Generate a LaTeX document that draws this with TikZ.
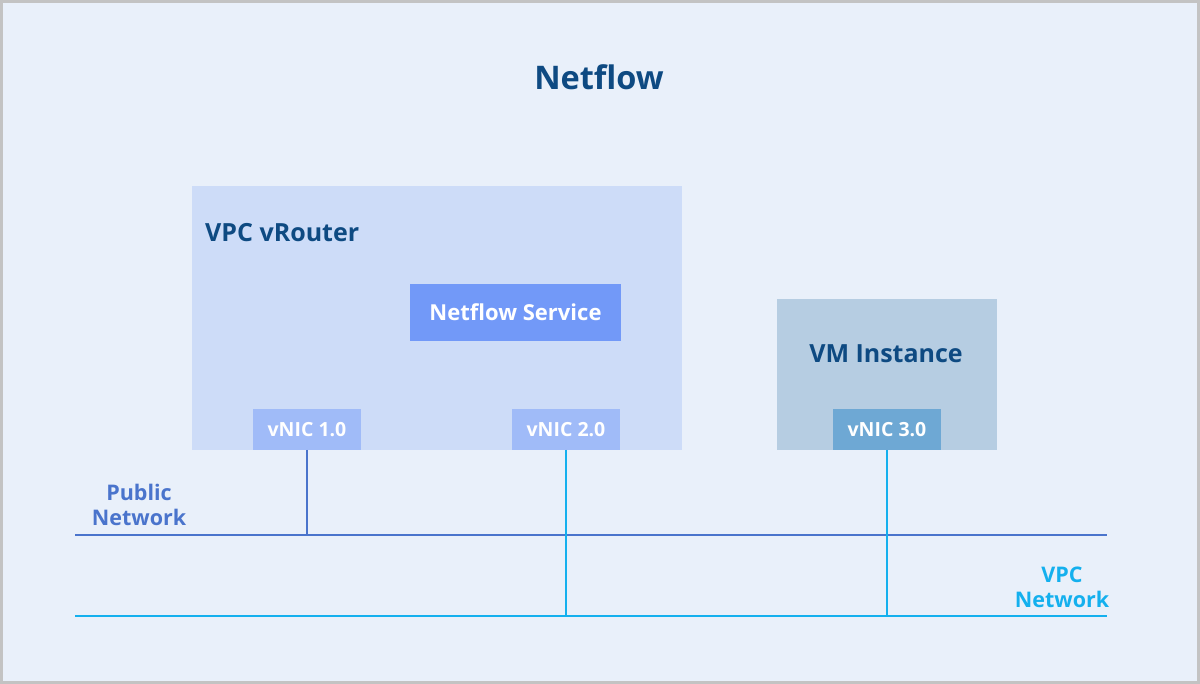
\documentclass[tikz,border=0pt]{standalone}
\usepackage{fontspec}
\setmainfont{Open Sans}
\definecolor{bgfill}{HTML}{E9F0FA}
\definecolor{frame}{HTML}{C3C3C3}
\definecolor{titleblue}{HTML}{0E4A82}
\definecolor{routerfill}{HTML}{CDDCF8}
\definecolor{servicefill}{HTML}{7299F8}
\definecolor{nicfill}{HTML}{A0BBF8}
\definecolor{vmfill}{HTML}{B6CDE2}
\definecolor{vmnicfill}{HTML}{6EA8D4}
\definecolor{pubblue}{HTML}{4A74CC}
\definecolor{vpccyan}{HTML}{14B0EE}
\tikzset{
  box/.style={draw=none, inner sep=0pt, outer sep=0pt, anchor=north west},
  nic/.style={box, minimum width=108pt, minimum height=41pt, text=white, font=\bfseries\fontsize{19.5}{22}\selectfont, anchor=center},
  publine/.style={draw=pubblue, line width=1.4pt},
  vpcline/.style={draw=vpccyan, line width=1.6pt},
  lbl/.style={font=\bfseries\fontsize{21.5}{25}\selectfont, align=center, inner sep=0pt},
}
\begin{document}
\begin{tikzpicture}[x=1pt,y=-1pt]
\useasboundingbox (0,0) rectangle (1200,684);
\fill[frame] (0,0) rectangle (1200,684);
\fill[bgfill] (3,3) rectangle (1197,681);
\node[font=\bfseries\fontsize{32.5}{38}\selectfont, text=titleblue] (title) at (599,77) {Netflow};
% router
\node[box, fill=routerfill, minimum width=490pt, minimum height=264pt] (router) at (192,186) {};
\node[anchor=west, inner sep=0pt, font=\bfseries\fontsize{25}{30}\selectfont, text=titleblue] (routerlbl) at (205,233) {VPC vRouter};
\node[box, fill=servicefill, minimum width=211pt, minimum height=57pt, anchor=center, text=white, font=\bfseries\fontsize{22}{26}\selectfont] (service) at (515.5,312.5) {Netflow Service};
\node[nic, fill=nicfill] (nic1) at (307,429.5) {vNIC 1.0};
\node[nic, fill=nicfill] (nic2) at (566,429.5) {vNIC 2.0};
% VM
\node[box, fill=vmfill, minimum width=220pt, minimum height=151pt] (vm) at (777,299) {};
\node[inner sep=0pt, font=\bfseries\fontsize{25}{30}\selectfont, text=titleblue] (vmlbl) at (886,354) {VM Instance};
\node[nic, fill=vmnicfill] (nic3) at (887,429.5) {vNIC 3.0};
% networks
\coordinate (pubL) at (75,535);
\coordinate (pubR) at (1107,535);
\coordinate (vpcL) at (75,616);
\coordinate (vpcR) at (1107,616);
\draw[publine] (pubL) -- (pubR);
\draw[vpcline] (vpcL) -- (vpcR);
\draw[publine] (nic1.south) -- (nic1.south |- pubL);
\draw[vpcline] (nic2.south) -- (nic2.south |- vpcL);
\draw[vpcline] (nic3.south) -- (nic3.south |- vpcL);
\node[lbl, text=pubblue] (publbl) at (139,505) {Public\\Network};
\node[lbl, text=vpccyan] (vpclbl) at (1062,587) {VPC\\Network};
\end{tikzpicture}
\end{document}
